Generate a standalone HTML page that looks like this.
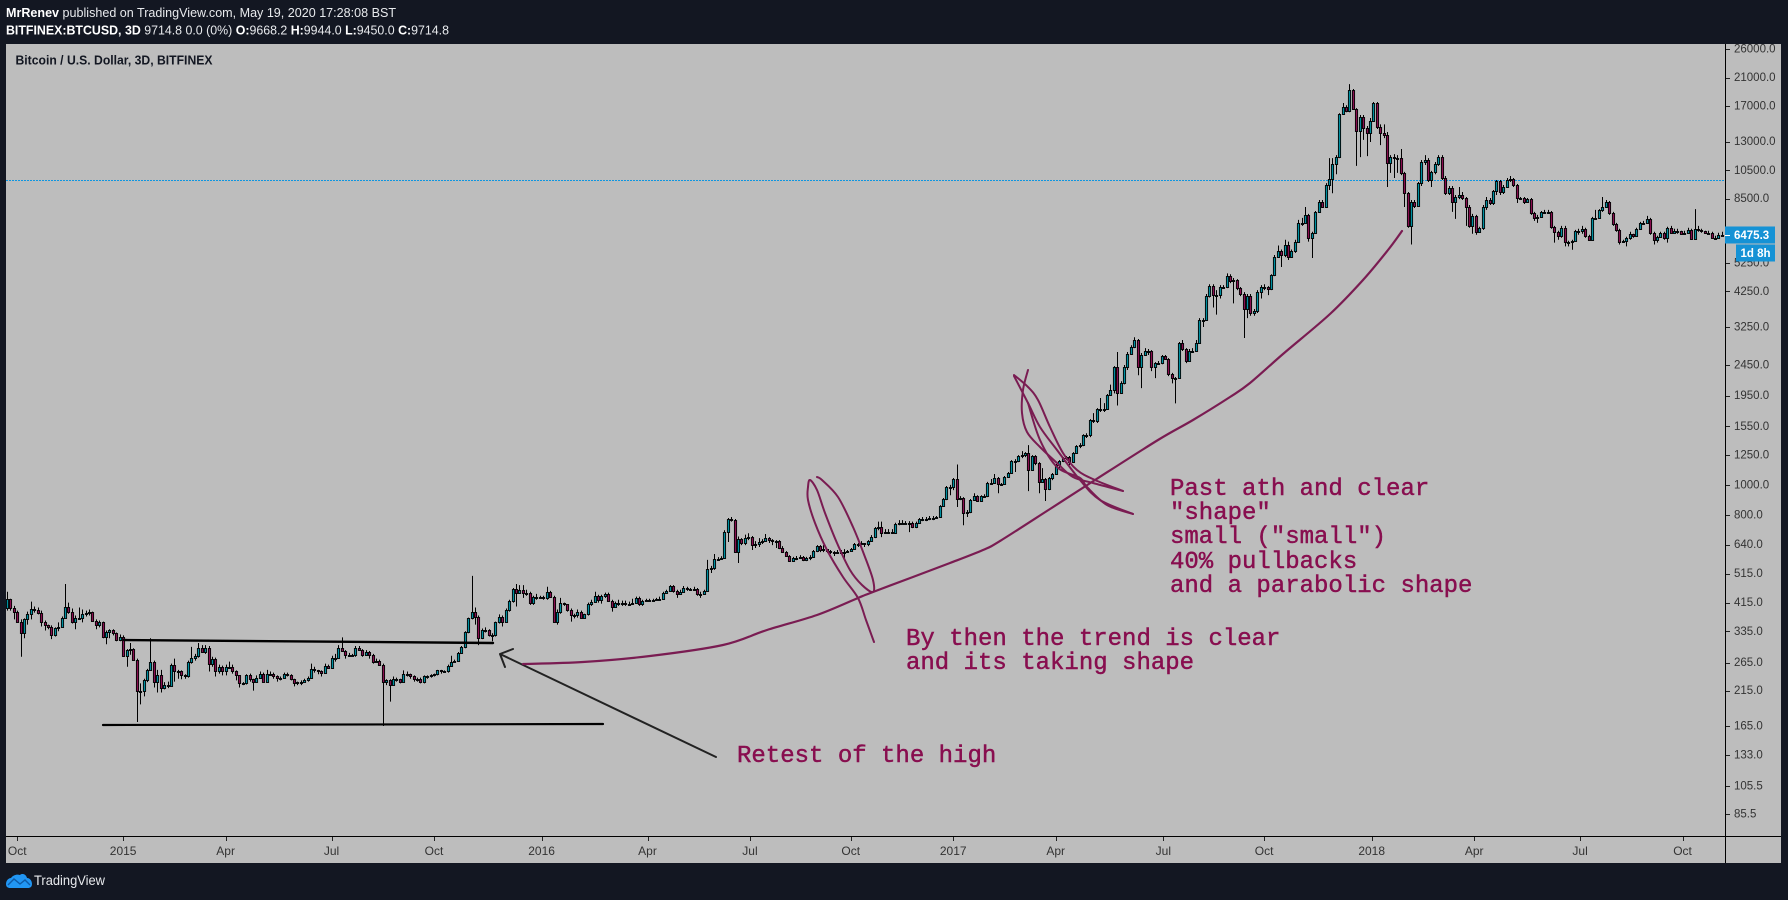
<!DOCTYPE html>
<html lang="en">
<head>
<meta charset="utf-8">
<title>Bitcoin / U.S. Dollar, 3D, BITFINEX</title>
<style>
html,body{margin:0;padding:0;width:1788px;height:900px;overflow:hidden;background:#131722}
svg{display:block}
text{font-family:"Liberation Sans",sans-serif}
.note{font-family:"Liberation Mono",monospace;font-size:24px;fill:#880e4f;stroke:#880e4f;stroke-width:.45;white-space:pre}
</style>
</head>
<body>
<svg id="chart" xmlns="http://www.w3.org/2000/svg" width="1788" height="900" viewBox="0 0 1788 900">
  <defs><clipPath id="plot-clip"><rect x="6" y="44" width="1719" height="792"/></clipPath></defs>
  <rect x="0" y="0" width="1788" height="900" fill="#131722"/>
  <text x="6" y="17" font-size="13" fill="#e8eaed" textLength="390" lengthAdjust="spacingAndGlyphs"><tspan font-weight="bold" fill="#fff">MrRenev</tspan> published on TradingView.com, May 19, 2020 17:28:08 BST</text>
  <text x="6" y="34.5" font-size="13" fill="#e8eaed" textLength="443" lengthAdjust="spacingAndGlyphs"><tspan font-weight="bold" fill="#fff">BITFINEX:BTCUSD, 3D</tspan>  9714.8 0.0 (0%) <tspan font-weight="bold" fill="#fff">O:</tspan>9668.2 <tspan font-weight="bold" fill="#fff">H:</tspan>9944.0 <tspan font-weight="bold" fill="#fff">L:</tspan>9450.0 <tspan font-weight="bold" fill="#fff">C:</tspan>9714.8</text>
  <rect x="6" y="44" width="1775" height="819" fill="#bdbdbd"/>
  <text x="15.5" y="64.5" font-size="13" font-weight="bold" fill="#131722" textLength="197" lengthAdjust="spacingAndGlyphs">Bitcoin / U.S. Dollar, 3D, BITFINEX</text>
  <g id="price-line-layer"></g>
  <g id="candle-layer" clip-path="url(#plot-clip)"></g>

  <g fill="none" stroke-linecap="round" stroke-linejoin="round">
    <line x1="124" y1="640" x2="493" y2="643" stroke="#000" stroke-width="2.4"/>
    <line x1="103" y1="725" x2="603" y2="724" stroke="#000" stroke-width="2.2"/>
    <path d="M716,757 L500,654 M513,649 L500,654 L505,667" stroke="#222" stroke-width="2"/>
    <path class="brush" data-pts="523,664 583,662 650,656 723,645 767,630 817,615 858,598 873,592 950,563 983,550 1000,541 1050,509 1095,480 1158,440 1193,420 1230,397 1250,383 1283,354 1330,314 1363,280 1388,250 1402,231" stroke="#7a1c52" stroke-width="2.2"/>
    <path class="brush" data-pts="874,642 866,620 858,598 843,577 827,550 815,523 808,500 808,487 810,480 817,490 825,513 837,543 850,570 862,585 873,592 873,580 865,557 853,527 838,497 822,480 817,477" stroke="#7a1c52" stroke-width="2"/>
    <path class="brush" data-pts="1028,370 1023,390 1022,413 1027,432 1040,447 1057,463 1073,477 1093,483 1123,491" stroke="#7a1c52" stroke-width="2"/>
    <path class="brush" data-pts="1014,375 1028,387 1038,400 1050,427 1063,453 1077,470 1095,480 1123,491" stroke="#7a1c52" stroke-width="2"/>
    <path class="brush" data-pts="1014,376 1028,403 1040,427 1057,450 1080,480 1100,500 1133,514" stroke="#7a1c52" stroke-width="2"/>
    <path class="brush" data-pts="1028,403 1040,440 1057,467 1080,478 1087,487 1107,505 1133,514" stroke="#7a1c52" stroke-width="2"/>
  </g>

  <g>
    <text class="note" x="737" y="762">Retest of the high</text>
    <text class="note" x="906" y="645">By then the trend is clear</text>
    <text class="note" x="906" y="669">and its taking shape</text>
    <text class="note" x="1170" y="495">Past ath and clear</text>
    <text class="note" x="1170" y="519">"shape"</text>
    <text class="note" x="1170" y="543">small ("small")</text>
    <text class="note" x="1170" y="568">40% pullbacks</text>
    <text class="note" x="1170" y="592">and a parabolic shape</text>
  </g>

  <g id="price-axis"></g>
  <g id="time-axis"></g>
  <line x1="1725.5" y1="44" x2="1725.5" y2="863" stroke="#000" stroke-width="1"/>
  <line x1="6" y1="836.5" x2="1781" y2="836.5" stroke="#000" stroke-width="1"/>

  <g id="badges"></g>

  <g>
    <path d="M6,884 C6,880 9,878 11,878 C13,875 17,874 20,875 C22,873 26,874 27,878 C30,878 32,881 32,884 C32,887 30,888 28,888 L10,888 C8,888 6,887 6,884 Z" fill="#2196f3"/>
    <path d="M8,885 L14,879 L20,884 L25,880 L30,885" fill="none" stroke="#0d5aa7" stroke-width="1.4"/>
    <text x="34" y="885" font-size="13.5" fill="#e8eaed" textLength="71" lengthAdjust="spacingAndGlyphs">TradingView</text>
  </g>
</svg>

<script>
const closes = [
427,400,388,360,330,366,380,397,394,385,
360,350,347,325,342,347,371,403,388,360,
371,371,380,385,388,363,350,358,320,332,
337,330,313,322,279,291,293,271,214,215,
232,251,267,230,241,220,224,222,261,248,
248,241,239,267,275,279,295,287,295,263,
273,248,257,248,257,257,248,241,227,227,
241,234,230,237,244,230,244,244,239,237,
237,244,241,234,227,229,230,232,237,253,
250,248,246,259,255,275,275,295,289,281,
281,281,295,291,281,287,281,267,269,261,
230,232,225,234,234,230,243,243,239,234,
235,229,239,239,241,243,250,248,248,259,
267,269,285,298,332,369,388,374,318,337,
337,325,325,358,374,360,394,421,460,447,
457,447,447,415,434,434,434,430,450,434,
360,388,415,412,394,377,377,388,371,380,
412,418,437,424,437,443,421,403,415,415,
415,412,412,415,430,412,421,424,424,424,
427,427,447,453,470,453,443,450,463,460,
460,460,443,443,453,533,537,575,575,579,
703,775,769,605,667,648,672,677,638,643,
653,657,672,662,657,657,624,605,588,566,
579,579,584,570,579,584,610,633,615,619,
610,605,601,605,605,605,610,619,643,643,
648,643,657,677,724,730,697,703,703,697,
748,754,754,754,754,730,754,775,775,775,
781,781,787,854,900,984,984,1045,900,907,
810,816,893,920,887,920,920,1015,1015,1053,
1007,1007,1061,1093,1195,1195,1241,1250,1269,1118,
1241,1178,1023,1045,969,1053,1085,1160,1195,1222,
1231,1186,1269,1337,1347,1452,1452,1624,1612,1763,
1763,1763,1958,2033,2412,1982,2137,2412,2660,2800,
2955,2412,2640,2720,2720,2412,2485,2485,2620,2562,
2290,2222,2222,2890,2761,2524,2720,2720,2890,3430,
3430,4100,4420,4132,4132,4390,4390,4760,4590,4625,
4355,4165,3723,4100,3615,3668,4225,4390,4390,4323,
4800,5490,5745,5575,6030,5490,5745,6160,7090,7090,
7525,6345,6585,7695,8290,7985,9410,9840,11006,11590,
15970,16850,16350,19130,16600,14100,15640,14400,13870,15170,
17360,14510,13870,13650,11090,11590,11500,11500,10300,8850,
6935,8290,8045,9540,11170,11340,9770,10380,11006,11590,
9910,8850,9200,8290,8600,8730,8535,7985,6935,7470,
6635,6835,7985,8410,8225,8990,9700,8926,9270,9770,
9840,9410,8535,8535,8290,8470,7635,7360,7415,7695,
7695,7695,6885,6635,6440,6835,6160,6160,6205,6685,
6685,6785,6440,6250,7360,7360,7810,7985,8290,7635,
7040,6730,6160,6205,6345,6535,6440,6785,7090,7090,
7305,6585,6250,6390,6585,6345,6835,6585,6685,6685,
6535,6585,6730,6300,6785,6730,6685,6585,6585,6345,
6345,6490,6475.3];

const highs = [
450,427,405,391,366,369,388,418,403,400,
391,363,352,350,345,358,374,477,415,397,
377,400,394,391,394,388,366,363,360,337,
340,340,332,327,325,293,307,295,273,227,
235,253,318,269,251,251,229,230,263,273,
251,250,243,269,298,283,307,302,302,300,
277,275,261,259,261,267,261,250,241,229,
243,244,235,241,248,246,251,248,246,241,
239,246,246,243,235,230,232,235,239,263,
257,251,250,263,261,279,283,302,320,291,
285,283,300,300,293,291,289,283,273,271,
263,234,234,239,237,235,250,248,244,241,
237,237,241,241,243,244,251,251,250,261,
279,271,287,300,335,371,507,400,377,342,
345,340,330,360,380,377,397,424,463,477,
473,473,457,450,437,443,437,437,467,453,
437,394,430,415,408,397,382,394,391,382,
415,424,450,440,440,447,447,424,418,424,
421,421,418,427,434,434,424,427,427,427,
430,434,450,457,473,473,457,457,470,467,
463,467,463,450,457,571,546,597,583,587,
713,781,787,775,680,672,690,697,683,657,
672,667,693,677,667,662,662,633,610,592,
584,588,592,588,584,592,615,638,638,638,
619,615,610,615,615,619,615,624,648,648,
657,648,662,687,730,760,760,719,719,719,
754,769,769,763,763,760,760,781,787,787,
793,793,793,860,907,992,1000,1053,1165,920,
913,829,900,940,926,926,933,1023,1045,1085,
1061,1015,1069,1101,1204,1213,1250,1288,1278,1347,
1250,1250,1186,1134,1053,1061,1093,1169,1204,1231,
1241,1241,1278,1347,1367,1461,1472,1636,1710,1776,
1915,1843,1973,2117,2430,2700,2170,2450,2700,2840,
3015,2975,2680,2780,2761,2740,2505,2524,2640,2640,
2581,2310,2240,2910,2955,2780,2761,2780,2955,3480,
3480,4165,4480,4480,4290,4450,4450,4860,4830,4695,
4658,4390,4225,4165,4165,3723,4290,4450,4480,4420,
4830,5575,5985,5810,6250,6160,5810,6250,7250,7360,
7985,7580,6635,7750,8410,8410,9540,11500,11500,11760,
16090,17360,17080,20000,19280,16720,15880,15880,14620,15520,
17490,17490,14800,14800,13980,11760,11850,11760,12311,10380,
8926,8410,8410,9625,11340,11760,11500,10460,11170,11760,
11760,10060,9340,9340,8730,9270,8926,8600,8105,7580,
7525,6885,8105,8600,8535,9060,9770,9770,9410,9910,
10060,9910,9480,8600,8600,8535,8535,7695,7525,7750,
7810,7810,7750,6935,6685,6935,6935,6205,6250,6730,
6785,6935,6835,6490,7415,7810,7860,8600,8410,8350,
7695,7090,6785,6250,6390,6635,6535,6835,7145,7195,
7470,7360,6635,6440,6635,6635,6885,6935,6785,6785,
6685,6685,6835,6785,7860,6935,6785,6685,6685,6635,
6440,6585,6635];

const lows = [
391,391,366,358,277,318,352,366,385,380,
347,337,340,316,322,335,345,369,382,355,
340,366,358,374,377,360,340,345,318,304,
318,325,311,311,277,257,281,269,170,194,
206,229,250,220,212,212,217,219,222,230,
235,234,235,237,263,269,275,285,283,248,
257,239,244,241,241,253,244,232,220,224,
225,230,215,229,235,229,229,241,235,230,
232,235,239,232,222,224,224,229,230,235,
246,243,239,244,253,253,267,273,287,273,
277,279,277,289,277,279,273,263,265,259,
165,224,198,224,230,227,229,239,235,230,
230,227,227,235,237,239,241,244,246,246,
257,265,267,283,295,330,366,352,302,316,
332,322,311,322,355,347,358,388,415,403,
443,430,437,408,408,424,430,424,424,430,
358,352,382,405,388,360,369,371,369,371,
377,405,415,415,412,430,418,388,400,405,
405,405,405,408,412,405,405,418,418,418,
421,421,424,443,450,447,430,440,447,453,
453,453,437,430,440,450,518,530,567,571,
575,653,760,601,558,638,638,662,615,624,
629,643,653,648,638,624,619,601,584,562,
562,570,575,566,566,570,579,605,605,605,
601,597,588,597,597,579,601,610,615,629,
638,629,633,653,672,713,677,693,693,693,
693,740,746,746,703,724,724,748,763,763,
769,769,775,781,848,893,926,962,848,893,
740,787,810,887,880,880,907,913,1000,1007,
940,992,1000,1053,1085,1101,1186,1222,1231,955,
1110,1160,940,1015,887,962,1037,1077,1118,1186,
1204,1160,1178,1260,1317,1337,1420,1430,1588,1588,
1725,1725,1750,1944,1982,1810,1973,2120,2360,2640,
2781,2270,2062,2620,2640,2340,2222,2450,2465,2543,
2255,2137,1840,2222,2720,2485,2524,2680,2700,2890,
3255,3405,4060,3765,3570,4030,4323,4355,4520,3885,
4290,4100,3000,3480,3540,3540,3615,4030,4290,4132,
4290,4760,5450,5100,5490,5370,5450,5665,6110,6935,
7250,6160,5450,6535,7635,7925,7925,9060,8850,10200,
11500,15880,16200,16200,16480,10850,11590,13180,11680,12970,
15060,14300,12680,13360,9270,10300,9910,10300,10130,7985,
6835,6030,7925,8105,9340,10930,9625,9270,10200,10850,
9770,8730,8730,7695,7305,8470,8410,6935,6835,6535,
6490,6585,6730,7810,8105,8105,8730,8730,8795,9200,
9625,9270,8225,8410,8165,8225,7525,7195,7090,7360,
7580,7580,6785,6115,6250,6345,5945,5945,5800,6160,
6490,6535,6345,6205,6205,7250,7305,7695,7925,7525,
6935,6635,6030,6115,5945,6250,6345,6390,6730,6990,
7040,6490,6030,6115,6345,6250,6115,6535,6535,6535,
6490,6490,6585,6250,6250,6635,6585,6535,6535,6300,
6250,6345,6440];

const firstOpen = 400;
const lastQuote = 9714.8;
const countdownPrice = 6475.3;
const priceTicks = [26000,21000,17000,13000,10500,8500,5250,4250,3250,2450,1950,1550,1250,1000,800,640,515,415,335,265,215,165,133,105.5,85.5];
const timeTickBars = [3,34,64,95,125,156.5,187.5,217.5,247,277,307,338.5,368,399.5,429.5,460.5,490.5];
const timeTickLabels = ["Oct","2015","Apr","Jul","Oct","2016","Apr","Jul","Oct","2017","Apr","Jul","Oct","2018","Apr","Jul","Oct"];

const NS = "http://www.w3.org/2000/svg";
function yScale(price) { return 49 + (Math.log(26000) - Math.log(price)) * 133.8; }
function xScale(bar) { return 7 + 3.416 * bar; }
function node(tag, attrs) {
  const el = document.createElementNS(NS, tag);
  for (const k in attrs) el.setAttribute(k, attrs[k]);
  return el;
}

const candleLayer = document.getElementById("candle-layer");
closes.forEach(function (close, i) {
  const open = i === 0 ? firstOpen : closes[i - 1];
  const x = Math.round(xScale(i));
  const wick = node("line", { x1: x + 0.5, x2: x + 0.5, y1: yScale(highs[i]), y2: yScale(lows[i]), stroke: "#000", "stroke-width": 1 });
  
  
  candleLayer.appendChild(wick);
  const top = Math.round(yScale(Math.max(open, close)));
  const bottom = Math.round(yScale(Math.min(open, close)));
  const body = node("rect", { x: x - 0.6, y: top + 0.5, width: 2.2, height: Math.max(bottom - top, 1), fill: close >= open ? "#008fa0" : "#880e4f", stroke: "#000", "stroke-width": 0.9 });
  
  
  candleLayer.appendChild(body);
});

const priceLine = node("line", { x1: 6, x2: 1725, y1: Math.floor(yScale(lastQuote)) + 0.5, y2: Math.floor(yScale(lastQuote)) + 0.5, stroke: "#0f96e0", "stroke-width": 1, "stroke-dasharray": "2 1" });


document.getElementById("price-line-layer").appendChild(priceLine);

const priceAxis = document.getElementById("price-axis");
priceTicks.forEach(function (p) {
  const y = yScale(p);
  const tick = node("line", { x1: 1725, x2: 1730, y1: Math.round(y) + 0.5, y2: Math.round(y) + 0.5, stroke: "#222", "stroke-width": 1 });
  
  
  priceAxis.appendChild(tick);
  const label = node("text", { x: 1734, y: y + 3.5, "font-size": 11.5, fill: "#333" });
  label.textContent = p.toFixed(1);
  
  
  priceAxis.appendChild(label);
});

const timeAxis = document.getElementById("time-axis");
timeTickBars.forEach(function (bar, i) {
  const x = xScale(bar);
  const tick = node("line", { x1: Math.round(x) + 0.5, x2: Math.round(x) + 0.5, y1: 836, y2: 841, stroke: "#222", "stroke-width": 1 });
  
  
  timeAxis.appendChild(tick);
  const label = node("text", { x: x, y: 855, "font-size": 12, fill: "#333", "text-anchor": "middle" });
  label.textContent = timeTickLabels[i];
  
  
  timeAxis.appendChild(label);
});

const badges = document.getElementById("badges");
const by = yScale(countdownPrice);
const priceBadge = node("rect", { x: 1725, y: by - 8.5, width: 50, height: 17, fill: "#1592d5" });


badges.appendChild(priceBadge);
const priceTick = node("line", { x1: 1725, x2: 1730, y1: Math.round(by) + 0.5, y2: Math.round(by) + 0.5, stroke: "#fff", "stroke-width": 1 });


badges.appendChild(priceTick);
const priceText = node("text", { x: 1734, y: by + 3.8, "font-size": 11.5, "font-weight": "bold", fill: "#fff" });
priceText.textContent = countdownPrice.toFixed(1);


badges.appendChild(priceText);
const countdownBadge = node("rect", { x: 1736, y: by + 9.5, width: 39, height: 17, fill: "#1592d5" });


badges.appendChild(countdownBadge);
const countdownText = node("text", { x: 1755.5, y: by + 21.8, "font-size": 11.5, "font-weight": "bold", fill: "#fff", "text-anchor": "middle" });
countdownText.textContent = "1d 8h";


badges.appendChild(countdownText);

document.querySelectorAll("path.brush").forEach(function (path) {
  const pts = path.getAttribute("data-pts").split(" ").map(function (s) { return s.split(",").map(Number); });
  let d = "M" + pts[0][0] + "," + pts[0][1];
  for (let i = 0; i < pts.length - 1; i++) {
    const p0 = pts[Math.max(i - 1, 0)], p1 = pts[i], p2 = pts[i + 1], p3 = pts[Math.min(i + 2, pts.length - 1)];
    d += " C" + (p1[0] + (p2[0] - p0[0]) / 6) + "," + (p1[1] + (p2[1] - p0[1]) / 6) + " " +
         (p2[0] - (p3[0] - p1[0]) / 6) + "," + (p2[1] - (p3[1] - p1[1]) / 6) + " " + p2[0] + "," + p2[1];
  }
  path.setAttribute("d", d);
});
</script>
</body>
</html>
